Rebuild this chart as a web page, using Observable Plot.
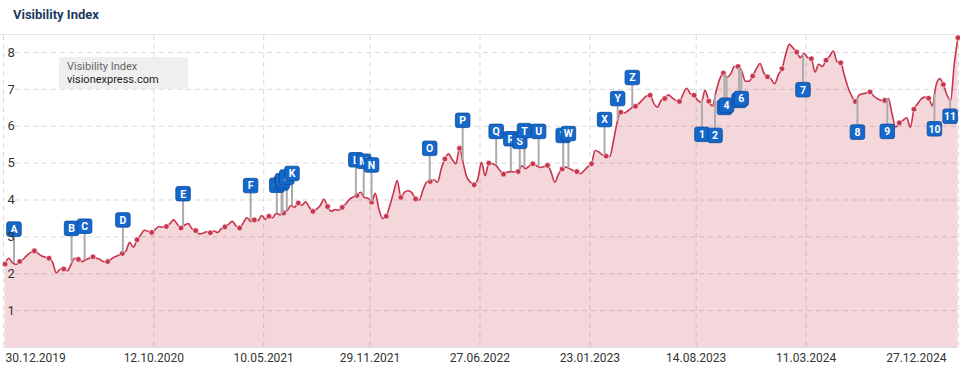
<!DOCTYPE html>
<html>
<head>
<meta charset="utf-8">
<script src="https://cdn.jsdelivr.net/npm/d3@7"></script>
<script src="https://cdn.jsdelivr.net/npm/@observablehq/plot@0.6"></script>
<style>
  html, body { margin: 0; padding: 0; background: #fff; }
  #wrap { position: relative; width: 960px; height: 372px; overflow: hidden; font-family: Roboto, sans-serif; }
  #title { height: 34px; border-bottom: 1px solid #e6e6e6; padding-left: 13px; line-height: 30px;
           font-family: Roboto, sans-serif; font-weight: 700; font-size: 13px; color: #1d3a5f; }
  #legend { position: absolute; left: 59px; top: 57px; width: 129px; height: 32px; background: #efefef;
            border-radius: 3px; font-family: Roboto, sans-serif; font-size: 11px; line-height: 13px; }
  #legend .l1 { position: absolute; left: 8px; top: 3px; color: #666; }
  #legend .l2 { position: absolute; left: 8px; top: 16px; color: #222; }
  svg { display: block; }
</style>
</head>
<body>
<div id="wrap">
  <div id="title">Visibility Index</div>
  <div id="chart"></div>
  <div id="legend"><div class="l1">Visibility Index</div><div class="l2">visionexpress.com</div></div>
</div>
<script>
// ---- data ----
const seriesName = "Visibility Index";
const domainName = "visionexpress.com";
const firstDate = "2020-01-02";          // weekly values start here
const values = [
  2.26, 2.42, 2.30, 2.25,  2.33, 2.40, 2.50, 2.58,  2.62, 2.55, 2.48, 2.45,  2.42, 2.30, 2.02, 2.12,
  2.13, 2.08, 2.25, 2.42,  2.39, 2.33, 2.38, 2.42,  2.46, 2.42, 2.38, 2.32,  2.33, 2.40, 2.46, 2.50,
  2.55, 2.62, 2.85, 2.72,  2.92, 3.05, 3.18, 3.15,  3.12, 3.20, 3.28, 3.26,  3.28, 3.36, 3.46, 3.34,
  3.24, 3.32, 3.36, 3.22,  3.17, 3.08, 3.10, 3.14,  3.11, 3.16, 3.12, 3.22,  3.27, 3.34, 3.42, 3.30,
  3.24, 3.38, 3.52, 3.42,  3.46, 3.44, 3.58, 3.48,  3.56, 3.52, 3.64, 3.60,  3.65, 3.72, 3.85, 3.80,
  3.92, 3.86, 3.95, 3.80,  3.69, 3.75, 3.85, 4.02,  3.82, 3.69, 3.74, 3.72,  3.80, 3.90, 4.02, 4.08,
  4.12, 4.21, 4.07, 4.05,  3.94, 4.18, 3.75, 3.50,  3.56, 3.85, 4.20, 4.53,  4.07, 4.21, 4.25, 4.20,
  4.03, 4.00, 4.26, 4.48,  4.50, 4.55, 4.48, 4.84,  5.11, 5.25, 5.10, 4.98,  5.40, 5.00, 4.62, 4.48,
  4.41, 4.57, 5.02, 4.66,  5.00, 4.98, 4.93, 4.80,  4.70, 4.75, 4.77, 4.76,  4.77, 4.93, 4.85, 4.92,
  4.98, 4.93, 4.88, 4.90,  4.94, 4.75, 4.48, 4.70,  4.84, 4.89, 4.85, 4.80,  4.77, 4.71, 4.80, 4.90,
  4.98, 5.34, 5.30, 5.22,  5.19, 5.18, 5.60, 6.10,  6.38, 6.36, 6.42, 6.50,  6.54, 6.62, 6.72, 6.82,
  6.84, 6.62, 6.52, 6.70,  6.75, 6.85, 6.77, 6.70,  6.67, 6.87, 7.03, 6.88,  6.84, 6.70, 6.65, 6.98,
  6.68, 6.55, 6.95, 7.28,  7.44, 7.33, 7.42, 7.62,  7.62, 7.50, 7.22, 7.22,  7.36, 7.56, 7.70, 7.45,
  7.34, 7.28, 7.15, 7.40,  7.56, 7.95, 8.22, 8.12,  8.01, 7.86, 7.98, 7.86,  7.83, 7.47, 7.68, 7.62,
  7.79, 7.90, 8.04, 7.75,  7.72, 7.38, 7.05, 6.82,  6.67, 6.84, 6.88, 6.90,  6.93, 6.82, 6.75, 6.70,
  6.70, 6.75, 6.34, 5.98,  6.09, 6.16, 6.23, 5.97,  6.46, 6.61, 6.74, 6.79,  6.76, 6.55, 7.10, 7.29,
  7.13, 6.85, 6.70, 7.70,  8.40
];
const markerLabels = ["A","B","C","D","E","F","G","H","I","J","K","L","M","N","O","P","Q","R","S","T","U","V","W","X","Y","Z",
                      "1","2","3","4","5","6","7","8","9","10","11"];
const markerDates = ["2020-01-19","2020-05-08","2020-06-02","2020-08-14","2020-12-07","2021-04-15","2021-06-04","2021-06-13",
  "2021-06-15","2021-06-23","2021-07-03","2021-11-02","2021-11-17","2021-12-02","2022-03-23","2022-05-25","2022-07-28",
  "2022-08-25","2022-09-11","2022-09-20","2022-10-17","2022-12-03","2022-12-13","2023-02-20","2023-03-17","2023-04-14",
  "2023-08-25","2023-09-19","2023-10-07","2023-10-11","2023-11-04","2023-11-08","2024-03-05","2024-06-17","2024-08-13",
  "2024-11-11","2024-12-11"];
const markerBoxValues = [3.21,3.23,3.29,3.46,4.17,4.39,4.40,4.46,4.52,4.62,4.72,5.09,5.05,4.95,5.40,6.16,5.86,
  5.66,5.59,5.88,5.86,5.75,5.80,6.18,6.75,7.32,
  5.78,5.75,6.51,6.57,6.70,6.75,6.99,5.84,5.86,5.93,6.27];
const xTickDates = ["2019-12-30","2020-10-12","2021-05-10","2021-11-29","2022-06-27","2023-01-23","2023-08-14","2024-03-11","2024-12-27"];
const yTicks = [1,2,3,4,5,6,7,8];
const xDomain = ["2019-12-30","2024-12-27"];
const yDomain = [0, 8.46];

// ---- build ----
const start = new Date(firstDate);
const data = values.map((v, i) => ({date: new Date(+start + i * 7 * 864e5), value: v, i}));
const dotData = data.filter(d => d.i % 4 === 0);
function valueAt(t) {
  t = +t;
  if (t <= +data[0].date) return data[0].value;
  for (let i = 0; i < data.length - 1; i++) {
    const a = data[i], b = data[i + 1];
    if (t >= +a.date && t <= +b.date) {
      const f = (t - a.date) / (b.date - a.date);
      return a.value + f * (b.value - a.value);
    }
  }
  return data[data.length - 1].value;
}
const markers = markerLabels.map((l, i) => {
  const date = new Date(markerDates[i]);
  return {label: l, date, box: markerBoxValues[i], line: valueAt(date)};
});
const ticks = xTickDates.map(d => new Date(d));
const fmt = d3.utcFormat("%d.%m.%Y");

const roundedSquare = {
  draw(context, size) {
    const s = Math.sqrt(size), h = s / 2, r = 2.2;
    context.moveTo(-h + r, -h);
    context.arcTo(h, -h, h, h, r);
    context.arcTo(h, h, -h, h, r);
    context.arcTo(-h, h, -h, -h, r);
    context.arcTo(-h, -h, h, -h, r);
    context.closePath();
  }
};

const lineColor = "#c8354d";
const gridColor = "#d9d9d9";

const markerMarks = [];
for (const m of markers) {
  markerMarks.push(Plot.dot([m], {x: "date", y: "box", symbol: roundedSquare, r: 8.2,
    fill: "#1567c9", stroke: "#0d4d9c", strokeWidth: 0.8}));
  markerMarks.push(Plot.text([m], {x: "date", y: "box", text: "label", fill: "white",
    fontWeight: "bold", fontSize: 10.5, dy: 0.5}));
}

const chart = Plot.plot({
  width: 960,
  height: 337,
  marginLeft: 3,
  marginRight: 2,
  marginTop: 0,
  marginBottom: 25,
  x: {type: "utc", domain: xDomain.map(d => new Date(d)), axis: null},
  y: {domain: yDomain, axis: null},
  style: {fontFamily: "Roboto, sans-serif", background: "white", overflow: "visible"},
  marks: [
    Plot.ruleX(ticks, {x: d => d, stroke: gridColor, strokeDasharray: "5,4"}),
    Plot.ruleY(yTicks, {y: d => d, stroke: gridColor, strokeDasharray: "5,4", insetLeft: 12}),
    Plot.ruleY([0], {stroke: "#dddddd"}),
    Plot.areaY(data, {x: "date", y: "value", curve: "monotone-x", fill: lineColor, fillOpacity: 0.2}),
    Plot.lineY(data, {x: "date", y: "value", curve: "monotone-x", stroke: lineColor, strokeWidth: 1.6}),
    Plot.dot(dotData, {x: "date", y: "value", r: 2.8, fill: lineColor, stroke: "white", strokeWidth: 0.6}),
    Plot.ruleX(markers, {x: "date", y1: "line", y2: "box", stroke: "#ababab", strokeWidth: 2}),
    ...markerMarks,
    Plot.text(yTicks, {y: d => d, text: d => String(d), frameAnchor: "left", textAnchor: "start", dx: 4,
      fontSize: 13, fill: "#333"}),
    Plot.text([ticks[0]], {x: d => d, text: d => fmt(d), frameAnchor: "bottom", dy: 14, dx: 2,
      textAnchor: "start", fontSize: 12, fill: "#333"}),
    Plot.text(ticks.slice(1, -1), {x: d => d, text: d => fmt(d), frameAnchor: "bottom", dy: 14,
      textAnchor: "middle", fontSize: 12, fill: "#333"}),
    Plot.text([ticks[ticks.length - 1]], {x: d => d, text: d => fmt(d), frameAnchor: "bottom", dy: 14, dx: -12,
      textAnchor: "end", fontSize: 12, fill: "#333"})
  ]
});
document.getElementById("chart").appendChild(chart);
document.querySelector("#title").textContent = seriesName;
document.querySelector("#legend .l1").textContent = seriesName;
document.querySelector("#legend .l2").textContent = domainName;
</script>
</body>
</html>
